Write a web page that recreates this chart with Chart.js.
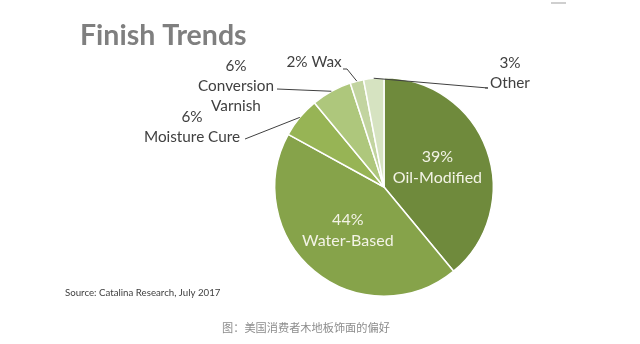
<!DOCTYPE html>
<html>
<head>
<meta charset="utf-8">
<script src="https://cdn.jsdelivr.net/npm/chart.js@4"></script>
<style>
  html, body { margin: 0; padding: 0; background: #fff; }
  canvas { display: block; }
</style>
</head>
<body>
<canvas id="pieChart" width="640" height="344"></canvas>
<script>
// finish types, clockwise from 12 o'clock
const categories = ['Oil-Modified', 'Water-Based', 'Moisture Cure', 'Conversion Varnish', 'Wax', 'Other'];
const shares = [39, 44, 6, 6, 2, 3];
const sliceColors = ['#6f8a3c', '#86a34a', '#97b455', '#aec77c', '#c2d4a0', '#d6e3c1'];

// how each label is written (the % value gets filled in from shares)
const labelLines = [
  ['{v}%', 'Oil-Modified'],
  ['{v}%', 'Water-Based'],
  ['{v}%', 'Moisture Cure'],
  ['{v}%', 'Conversion', 'Varnish'],
  ['{v}% Wax'],
  ['{v}%', 'Other']
];

// outside labels: text centre relative to the pie centre, plus where the leader ends
const outside = {
  2: { dx: -192, dy: -60, lineTo: [-139, -48] },
  3: { dx: -148, dy: -101, lineTo: [-107, -98], elbow: null },
  4: { dx: -70, dy: -125, lineTo: [-37, -118], elbow: [-41, -118] },
  5: { dx: 126, dy: -114, lineTo: [104, -99], elbow: [101, -99] }
};

const FONT = 'Lato, "Open Sans", sans-serif';

const labelPlugin = {
  id: 'finishLabels',
  afterDraw(chart) {
    const c = chart.ctx;
    const arcs = chart.getDatasetMeta(0).data;
    c.save();

    // title
    c.fillStyle = '#7f7f7f';
    c.font = 'bold 28.5px ' + FONT;
    c.textAlign = 'left';
    c.textBaseline = 'alphabetic';
    c.fillText('Finish Trends', 80, 45);

    // source note
    c.fillStyle = '#404040';
    c.font = '9.7px ' + FONT;
    c.fillText('Source: Catalina Research, July 2017', 65, 296);

    // caption
    c.fillStyle = '#8c8c8c';
    c.font = '11.2px "Noto Sans CJK SC", sans-serif';
    c.fillText('图：美国消费者木地板饰面的偏好', 222, 332);

    // small mark top right
    c.strokeStyle = '#cfcfcf';
    c.lineWidth = 2;
    c.beginPath();
    c.moveTo(551, 3);
    c.lineTo(566, 3);
    c.stroke();

    arcs.forEach((arc, i) => {
      const lines = labelLines[i].map(s => s.replace('{v}', shares[i]));
      const cx = arc.x, cy = arc.y;
      c.textAlign = 'center';
      c.textBaseline = 'middle';

      if (!outside[i]) {
        // big slices: label inside
        const mid = (arc.startAngle + arc.endAngle) / 2;
        const r = arc.outerRadius * 0.52;
        const x = cx + Math.cos(mid) * r;
        const y = cy + Math.sin(mid) * r;
        c.fillStyle = '#f3f3e6';
        c.font = '16px ' + FONT;
        lines.forEach((t, k) => c.fillText(t, x, y + (k - (lines.length - 1) / 2) * 21));
        return;
      }

      const o = outside[i];
      const mid = (arc.startAngle + arc.endAngle) / 2;
      const px = cx + Math.cos(mid) * arc.outerRadius;
      const py = cy + Math.sin(mid) * arc.outerRadius;

      c.strokeStyle = '#404040';
      c.lineWidth = 1;
      c.beginPath();
      c.moveTo(px, py);
      c.lineTo(cx + o.lineTo[0], cy + o.lineTo[1]);
      if (o.elbow) c.lineTo(cx + o.elbow[0], cy + o.elbow[1]);
      c.stroke();

      c.fillStyle = '#404040';
      c.font = '15.3px ' + FONT;
      lines.forEach((t, k) => c.fillText(t, cx + o.dx, cy + o.dy + (k - (lines.length - 1) / 2) * 20));
    });

    c.restore();
  }
};

new Chart(document.getElementById('pieChart'), {
  type: 'pie',
  data: {
    labels: categories,
    datasets: [{
      data: shares,
      backgroundColor: sliceColors,
      borderColor: '#ffffff',
      borderWidth: 1.5
    }]
  },
  options: {
    responsive: false,
    animation: false,
    layout: { padding: { left: 274, right: 146, top: 77, bottom: 47 } },
    plugins: {
      legend: { display: false },
      tooltip: { enabled: false }
    }
  },
  plugins: [labelPlugin]
});
</script>
</body>
</html>
